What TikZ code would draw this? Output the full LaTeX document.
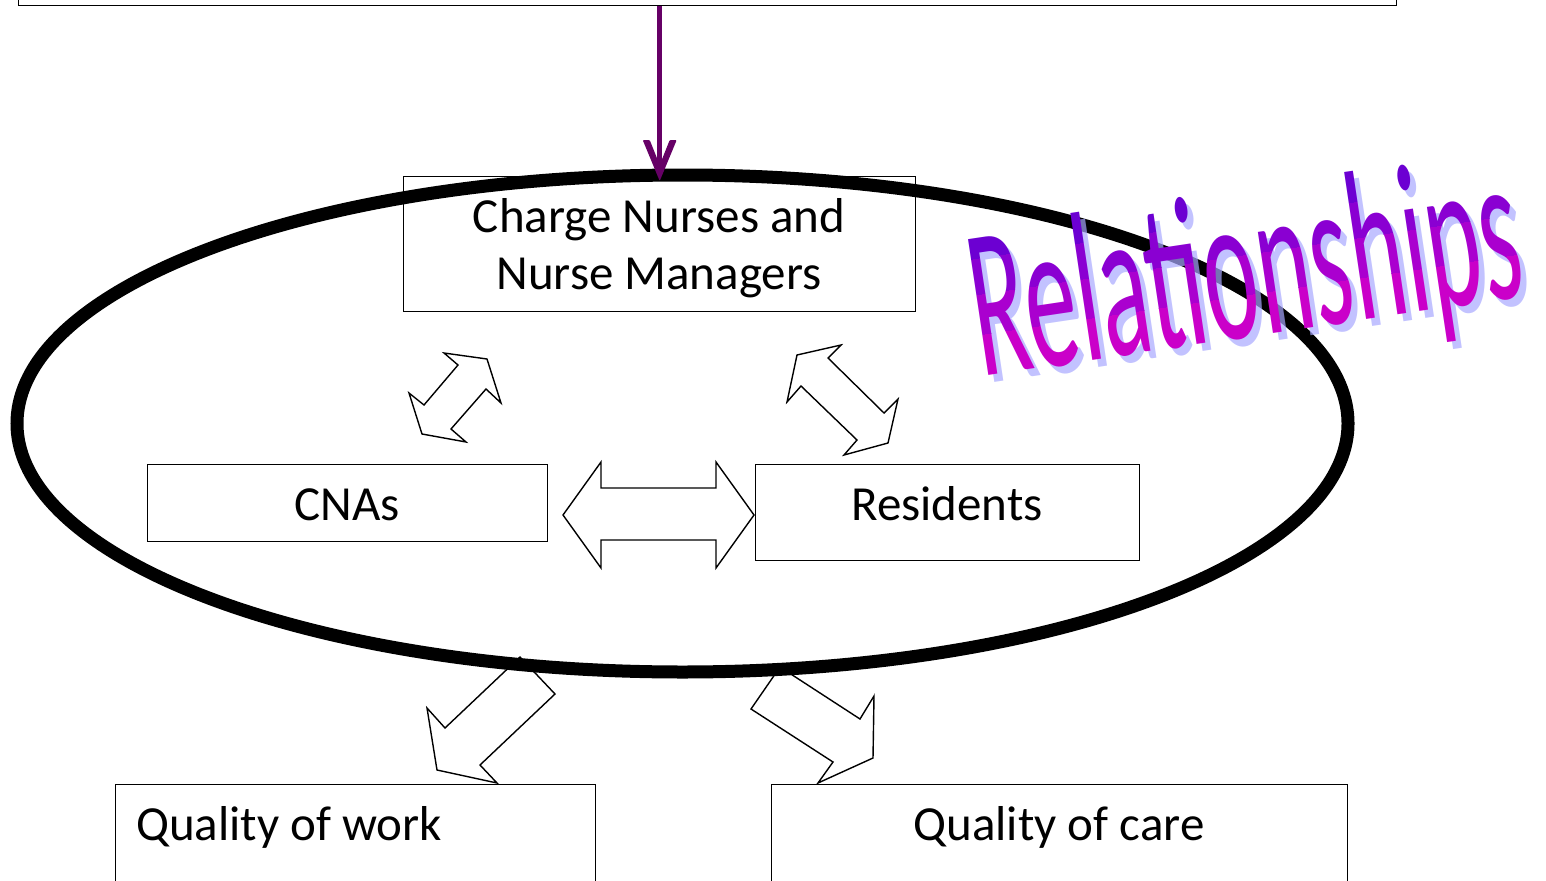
\documentclass[tikz,border=0pt]{standalone}
\usepackage{fontspec}
\setmainfont{Carlito}
\usetikzlibrary{arrows.meta}
\definecolor{plum}{HTML}{660066}
\definecolor{wbA}{HTML}{6C00D2}
\definecolor{wbB}{HTML}{8A00D2}
\definecolor{wbC}{HTML}{AA00CF}
\definecolor{wbD}{HTML}{CA00C9}
\definecolor{wshadow}{HTML}{A8A8FF}
\begin{document}
\begin{tikzpicture}[x=1pt,y=1pt,
  box/.style={draw, line width=1.4pt, inner sep=0pt, rectangle},
  lbl/.style={inner sep=0pt, font=\fontsize{49}{59}\selectfont},
  blockarrow/.style={draw, fill=white, line width=1.4pt, line join=miter},
  ring/.style={draw, line width=13pt},
  wa/.style={inner sep=0pt, font=\fontsize{214}{250}\selectfont, transform shape},
  wapos/.style={shift={(#1)}, rotate=8.5, xscale=0.48}]
\useasboundingbox (0,0) rectangle (1546,-880);
\clip (0,0) rectangle (1546,-880);

% boxes
\node[box, minimum width=1378pt, minimum height=40pt, anchor=south west] (top) at (18,-6) {};
\node[box, minimum width=512pt, minimum height=135pt, anchor=north west] (charge) at (403,-176) {};
\node[box, minimum width=400pt, minimum height=77pt, anchor=north west] (cnas) at (147,-464) {};
\node[box, minimum width=384pt, minimum height=96pt, anchor=north west] (res) at (755,-464) {};
\node[box, minimum width=480pt, minimum height=120pt, anchor=north west] (qwork) at (115,-784) {};
\node[box, minimum width=576pt, minimum height=120pt, anchor=north west] (qcare) at (771,-784) {};

% labels
\node[lbl, anchor=base] (t1) at (659,-232) {Charge Nurses and};
\node[lbl, anchor=base] (t2) at (659,-289) {Nurse Managers};
\node[lbl, anchor=base] (t3) at (347,-520) {CNAs};
\node[lbl, anchor=base] (t4) at (947,-520) {Residents};
\node[lbl, anchor=base west] (t5) at (136,-840) {Quality of work};
\node[lbl, anchor=base] (t6) at (1059,-840) {Quality of care};

% block arrows
\draw[blockarrow] (563,-515) -- (601,-462) -- (601,-488) -- (716,-488) -- (716,-462) -- (754,-515)
  -- (716,-568) -- (716,-540) -- (601,-540) -- (601,-568) -- cycle;
\draw[blockarrow] (444,-353) -- (487,-359) -- (501,-403) -- (486,-389) -- (451,-429) -- (466,-442)
  -- (422,-434) -- (409,-393) -- (424,-405) -- (458,-365) -- cycle;
\draw[blockarrow] (797,-355) -- (841,-345) -- (828,-358) -- (884,-413) -- (898,-399) -- (888,-443)
  -- (844,-455) -- (857,-440) -- (801,-386) -- (787,-402) -- cycle;
\draw[blockarrow] (520,-657) -- (555,-694) -- (480,-765) -- (497,-783) -- (437,-770) -- (427,-708)
  -- (445,-728) -- cycle;
\draw[blockarrow] (780,-667) -- (751,-709) -- (833,-762) -- (818,-783) -- (873,-758) -- (874,-696)
  -- (860,-719) -- cycle;

% ring
\draw[ring] (682.5,-423.5) ellipse [x radius=665.5, y radius=248.5];

% purple arrow with barbed head
\draw[plum, line width=5pt] (charge.north |- top.south) -- ([yshift=16pt]charge.north);
\fill[plum, rounded corners=1pt] ([yshift=-5pt]charge.north) -- ++(-17,41) -- ++(7,0)
  -- ++(8,-20) -- ++(4,0) -- ++(8,20) -- ++(7,0) -- cycle;

% word art: shadow, then banded gradient text
\begin{scope}[wapos={987,-384}]
\node[wa, anchor=base west, text=wshadow, text opacity=0.7] (wsh) at (0,0) {Relationships};
\end{scope}
\foreach \lo/\hi/\col in {-120/42/wbD, 42/82/wbC, 82/118/wbB, 118/400/wbA} {
  \begin{scope}[wapos={981,-377}]
  \clip (-60,\lo) rectangle (1300,\hi);
  \node[wa, anchor=base west, text=\col] (w\col) at (0,0) {Relationships};
  \end{scope}
}
\end{tikzpicture}
\end{document}
